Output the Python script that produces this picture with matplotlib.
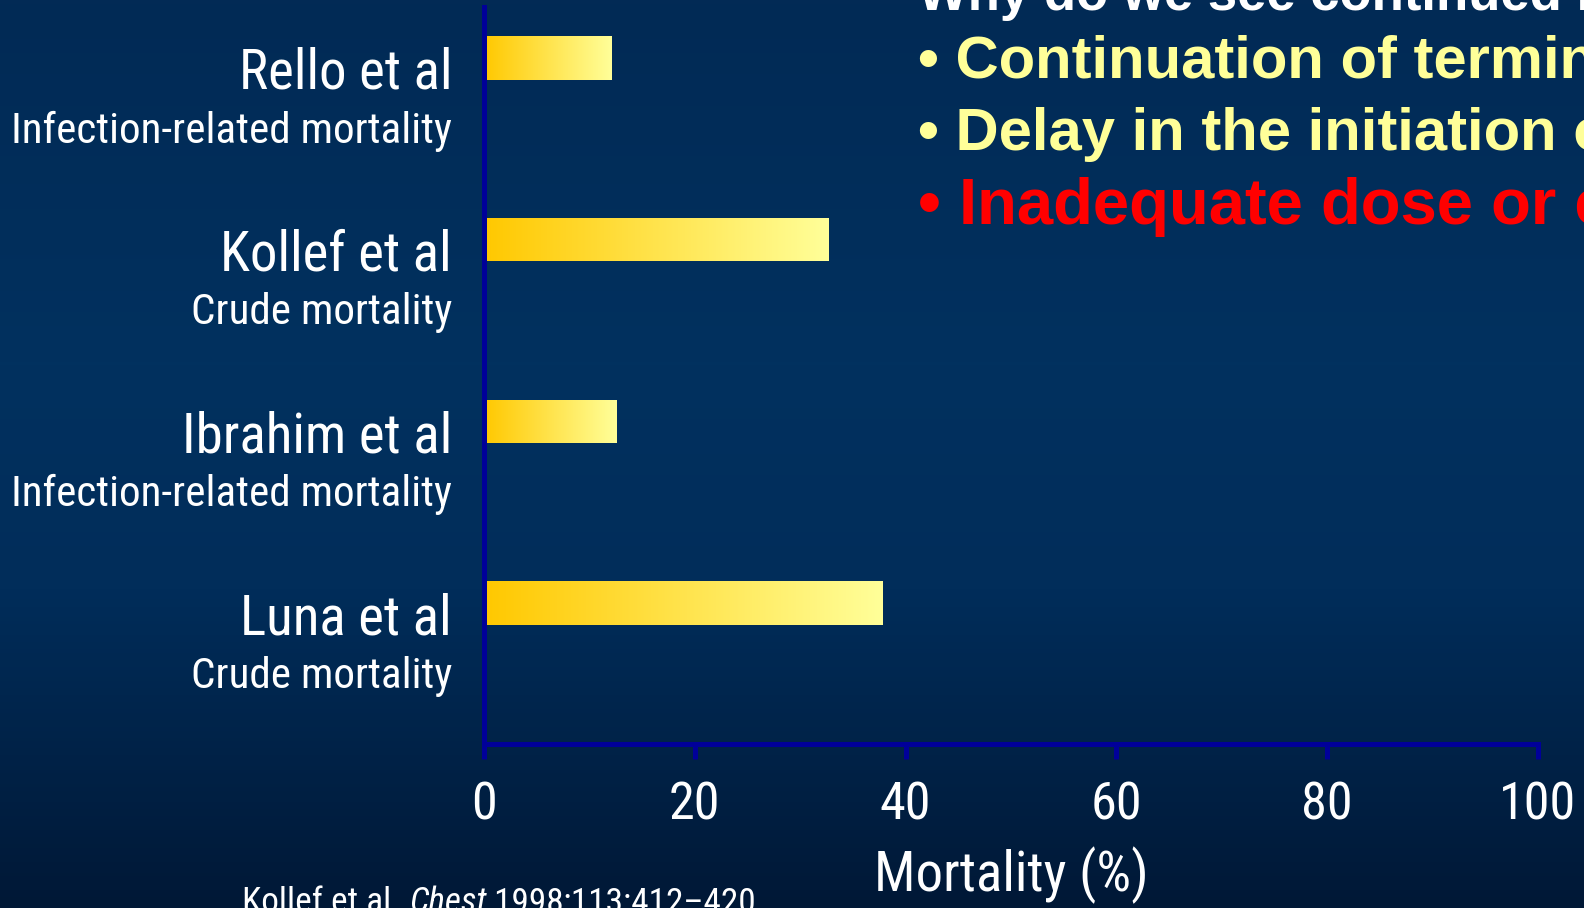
import numpy as np
import matplotlib
matplotlib.use("Agg")
import matplotlib.pyplot as plt
from matplotlib import font_manager
from matplotlib.font_manager import FontProperties
from matplotlib.colors import LinearSegmentedColormap

# data
studies = ["Luna et al", "Ibrahim et al", "Kollef et al", "Rello et al"]
measures = ["Crude mortality", "Infection-related mortality",
            "Crude mortality", "Infection-related mortality"]
mortality = [37.8, 12.6, 32.7, 12.1]
xticks = [0, 20, 40, 60, 80, 100]

title_line = "Why do we see continued high mortality?"
bullets = ["\u2022 Continuation of terminal disease",
           "\u2022 Delay in the initiation of appropriate therapy"]
red_bullet = "\u2022 Inadequate dose or exposure"
foot_parts = ["Kollef et al. ", "Chest", " 1998;113:412\u2013420"]

W, H = 1584, 908
axis_blue = "#000099"
bold = ["Liberation Sans", "DejaVu Sans"]

# pick a narrow sans for the chart labels (slide uses Arial Narrow)
names = {f.name for f in font_manager.fontManager.ttflist}
narrow_name = "Liberation Sans"
for cand in ["Liberation Sans Narrow", "Arial Narrow", "Roboto Condensed",
             "Open Sans Condensed", "Noto Sans Condensed"]:
    if cand in names:
        narrow_name = cand
        break
narrow_fp = FontProperties(family=[narrow_name, "DejaVu Sans"])


def nf(size, style="normal"):
    fp = narrow_fp.copy()
    fp.set_size(size)
    fp.set_style(style)
    return fp


fig = plt.figure(figsize=(W / 100, H / 100), dpi=100)

# size calibration: "Infection-related mortality" is ~441 px wide on the slide
renderer = fig.canvas.get_renderer()
probe = fig.text(0, 0, "Infection-related mortality", fontproperties=nf(33))
k = 441 / probe.get_window_extent(renderer).width
probe.remove()
k = min(k, 1.25)

# background gradient
bg = fig.add_axes([0, 0, 1, 1], zorder=-10)
bg_cmap = LinearSegmentedColormap.from_list(
    "bg", [(0, "#022a55"), (0.4, "#01315f"), (0.65, "#012d5a"), (1, "#001836")])
bg.imshow(np.linspace(0, 1, 256).reshape(-1, 1), cmap=bg_cmap, aspect="auto",
          extent=[0, 1, 0, 1], origin="upper")
bg.set_axis_off()

left, right = 484 / W, 1538 / W
bottom, top = (H - 744) / H, (H - 7) / H
ax = fig.add_axes([left, bottom, right - left, top - bottom])
ax.patch.set_alpha(0)

ypos = np.arange(len(studies))
bar_cmap = LinearSegmentedColormap.from_list("bar", ["#ffc800", "#ffff99"])
bars = ax.barh(ypos, mortality, height=0.24, facecolor="none", edgecolor="none")
grad = np.linspace(0, 1, 256).reshape(1, -1)
for b in bars:
    x0, y0, w, h = b.get_x(), b.get_y(), b.get_width(), b.get_height()
    im = ax.imshow(grad, cmap=bar_cmap, aspect="auto",
                   extent=[x0, x0 + w, y0, y0 + h], zorder=2)
    im.set_clip_path(b)

ax.set_xlim(0, 100)
ax.set_ylim(-0.775, 3.28)

for s in ["top", "right"]:
    ax.spines[s].set_visible(False)
for s in ["left", "bottom"]:
    ax.spines[s].set_color(axis_blue)
    ax.spines[s].set_linewidth(3.6)
    ax.spines[s].set_zorder(3)

ax.set_xticks(xticks)
ax.set_xticklabels([str(t) for t in xticks], fontproperties=nf(40 * k), color="white")
ax.tick_params(axis="x", direction="out", length=11, width=3.6, color=axis_blue, pad=15)
ax.set_yticks([])
ax.set_xlabel("Mortality (%)", fontproperties=nf(42 * k), color="white", labelpad=12)

# study labels, two lines, right aligned left of the axis
tr = ax.get_yaxis_transform()
for y, name, meas in zip(ypos, studies, measures):
    ax.annotate(name, xy=(0, y), xycoords=tr, xytext=(-23, -22.3),
                textcoords="offset points", ha="right", va="baseline",
                fontproperties=nf(42 * k), color="white")
    ax.annotate(meas, xy=(0, y), xycoords=tr, xytext=(-23, -61),
                textcoords="offset points", ha="right", va="baseline",
                fontproperties=nf(33 * k), color="white")


def px(x, y):
    return x / W, 1 - y / H


# right-hand text block
fig.text(*px(918, 10), title_line, family=bold, weight="bold", fontsize=38,
         color="white", va="baseline", ha="left")
fig.text(*px(918, 78), bullets[0], family=bold, weight="bold", fontsize=43,
         color="#ffff99", va="baseline", ha="left")
fig.text(*px(918, 150), bullets[1], family=bold, weight="bold", fontsize=43,
         color="#ffff99", va="baseline", ha="left")
fig.text(*px(918, 224), red_bullet, family=bold, weight="bold", fontsize=47,
         color="#ff0000", va="baseline", ha="left")

# reference footnote, journal name in italics
prev = fig.text(*px(242, 919), foot_parts[0], fontproperties=nf(27 * k),
                color="white", va="bottom", ha="left")
for part, style in zip(foot_parts[1:], ["italic", "normal"]):
    prev = ax.annotate(part, xy=(1, 0), xycoords=prev, va="bottom", ha="left",
                       fontproperties=nf(27 * k, style), color="white",
                       annotation_clip=False)

fig.savefig("out.png", dpi=100)
